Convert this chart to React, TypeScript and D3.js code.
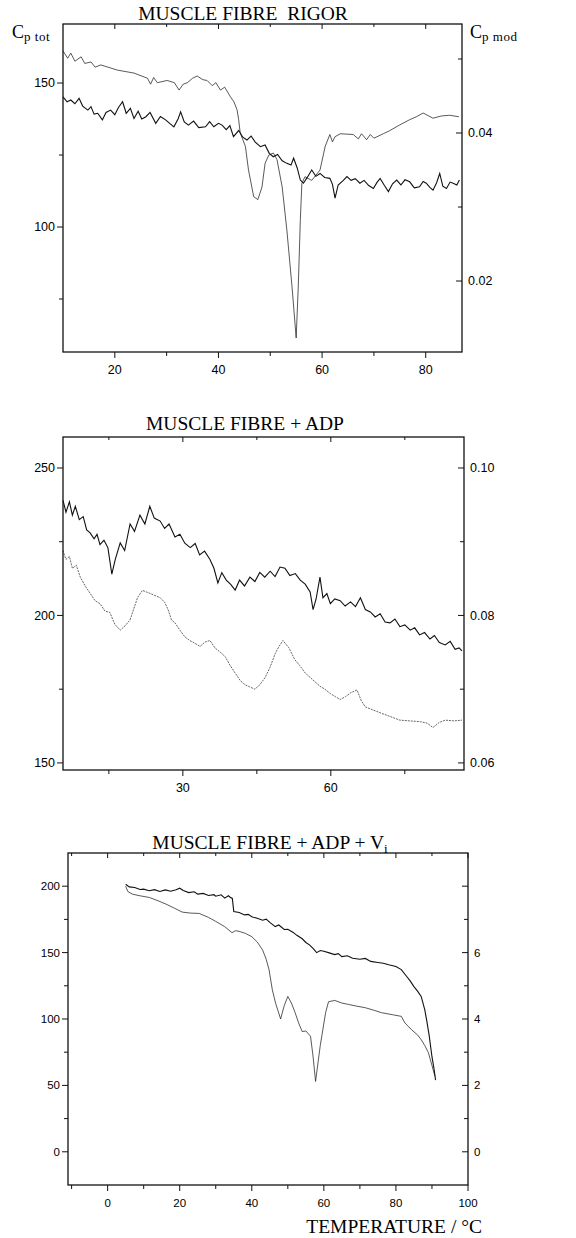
import * as d3 from "d3";
import {useEffect} from "react";

type Pt = [number, number];

// ---- panel 1: muscle fibre rigor ----
// thick noisy trace, left axis (Cp tot)
const rigorTot: Pt[] = [
  [10,145.2],[10.8,143.5],[11.5,144.1],[12.3,142.8],[13.1,144.7],[13.8,142],[14.8,140.6],[15.4,141.8],
  [16,139.2],[16.7,139.5],[17.6,137.2],[18.3,139.8],[19.2,140.6],[20,139],[20.7,141.5],[21.5,143.5],
  [22.2,139.5],[23,141.2],[23.7,137.7],[24.5,140.2],[25.2,137.5],[26,138.3],[26.8,139.8],[27.9,136],
  [28.8,138.4],[29.8,137.2],[30.7,135.8],[31.4,134.8],[32.2,137.5],[32.7,140],[33.4,136.5],[34.2,135.4],
  [35.2,136.8],[36.2,134.5],[37.5,134.8],[38.3,136.6],[39.1,134.8],[40,136],[40.7,135.4],[41.5,133.8],
  [42.2,135.2],[42.9,131.4],[43.9,133.5],[44.7,131.2],[45.5,130.2],[46.3,131.6],[47.1,129.5],[48.1,127.9],
  [49,128.5],[49.8,125.6],[50.6,124.4],[51.4,125.2],[52.3,123],[53.2,122.1],[54,121.5],[54.5,123.9],
  [55.2,120.5],[55.8,116.3],[56.4,115.2],[57.2,117.4],[58,119.8],[58.8,117.6],[59.6,118.6],[60.5,117.2],
  [61.5,116.9],[62,114.8],[62.5,110],[63.1,114.6],[64,116],[64.8,117.5],[65.6,116.2],[66.4,116.8],
  [67.3,115.2],[68.1,116.2],[69,114.4],[69.9,113.4],[70.6,115.5],[71.2,116.9],[72,114.5],[72.8,112.3],
  [73.6,115],[74.4,116.3],[75.2,114.6],[76,116.4],[76.9,115.7],[77.8,113.6],[78.8,114],[79.5,115.8],
  [80.1,115.2],[80.8,113.8],[81.4,112.8],[82.1,115.4],[82.7,118.6],[83.3,114.2],[84,113.4],[84.7,115.6],
  [85.3,115.2],[86,114.6],[86.5,116.3],
];
// thin trace, right axis (Cp mod)
const rigorMod: Pt[] = [
  [10,0.0511],[10.9,0.0501],[11.5,0.0508],[12.3,0.0497],[13.5,0.0503],[14.2,0.0494],[15.4,0.0496],
  [16.2,0.0489],[17.3,0.0492],[20.5,0.0485],[23.7,0.0481],[26.3,0.0474],[26.9,0.0466],[27.5,0.0475],
  [28.2,0.0468],[30.1,0.0471],[31.5,0.0468],[32.4,0.0458],[33.2,0.0466],[34,0.0468],[35,0.0474],
  [35.9,0.0477],[37,0.0472],[37.8,0.0471],[38.8,0.0464],[39.5,0.0468],[40.4,0.0458],[41.2,0.0462],
  [42.3,0.0449],[43,0.0442],[43.6,0.0431],[43.9,0.0418],[44.2,0.04],[45.2,0.0382],[45.8,0.035],
  [46.8,0.0314],[47.6,0.031],[48.4,0.0327],[49,0.0359],[49.7,0.037],[50.6,0.0373],[51.3,0.0364],
  [52.3,0.0327],[53.2,0.0269],[54.2,0.0192],[55,0.0123],[55.4,0.0192],[55.8,0.0282],[56.1,0.0332],
  [56.7,0.0341],[58,0.0336],[59.6,0.035],[60.6,0.0382],[61.5,0.0398],[62,0.0388],[62.5,0.0395],
  [63.5,0.0399],[66,0.0398],[67,0.0392],[67.6,0.0399],[68.6,0.0391],[69.3,0.0398],[70,0.0393],
  [71.8,0.0399],[73,0.0403],[75,0.0411],[76.9,0.0418],[78.2,0.0422],[79.5,0.0427],[81.4,0.042],
  [83,0.0423],[84.6,0.0424],[86.4,0.0422],
];

// ---- panel 2: muscle fibre + ADP ----
const adpTot: Pt[] = [
  [5.7,239],[6.3,235],[7,238.5],[7.6,234],[8.2,237],[9,232.5],[9.8,233.5],[10.5,229],[11.2,228],[12,226],
  [12.6,227.5],[13.2,224],[14,225.5],[14.8,223],[15.6,214],[16.3,219],[17.3,224.6],[18.2,222],[19.3,231],
  [20.2,228.5],[21.3,234],[22.3,231],[23.3,237],[24.2,233],[25.4,232],[26.3,229.5],[27.2,231],[28.4,226.6],
  [29.4,227.5],[30.4,224.5],[31.5,223],[32.5,224.4],[33.4,220.5],[34.4,221.8],[35.5,219],[36.3,216],
  [37.1,211],[37.9,214.5],[38.8,212],[39.7,210.5],[40.6,208.6],[41.5,212],[42.5,210],[43.6,213],
  [44.6,211.5],[45.6,214.6],[46.6,213],[47.7,215],[48.7,213.2],[49.7,216.4],[50.7,216],[51.7,213.5],
  [52.8,214.2],[53.8,212],[54.8,210.6],[55.8,208],[56.4,202],[57,205.5],[57.8,213],[58.4,206],[59.2,207.4],
  [59.9,204],[60.8,205.6],[61.9,205],[62.9,203.2],[64,204.6],[65,203],[66,206],[67,202],[68,201.2],
  [69,199.5],[70,200.6],[71,197.8],[72,197.5],[73,198.8],[74,196.2],[75,196.8],[76.1,195],[77,195.8],
  [78,193.4],[79,194.2],[80.1,192],[81,193.2],[82,190.8],[83.2,190],[84.2,191.2],[85.2,188.5],[86,189],
  [86.6,188],
];
const adpMod: Pt[] = [
  [5.7,0.0888],[6.3,0.0876],[7,0.088],[7.6,0.0864],[8.4,0.0868],[9.2,0.0852],[10.2,0.084],[11.2,0.083],
  [12.2,0.082],[13.2,0.0816],[14.2,0.0806],[15.2,0.0804],[16.2,0.0788],[17.3,0.078],[18.3,0.0786],
  [19.3,0.0794],[20,0.0808],[20.8,0.0824],[21.8,0.0834],[23.3,0.083],[25.4,0.0824],[26.3,0.0818],
  [27,0.0808],[27.7,0.0794],[28.4,0.079],[29.4,0.078],[30.4,0.0771],[31.4,0.0766],[32.5,0.0762],
  [33.5,0.0758],[34.5,0.0764],[35.5,0.0766],[36.5,0.0756],[37.6,0.075],[38.6,0.0744],[39.6,0.0732],
  [40.6,0.0722],[41.6,0.0712],[42.6,0.0706],[43.6,0.0703],[44.6,0.07],[45.6,0.0706],[46.7,0.0716],
  [47.7,0.073],[48.7,0.0748],[49.5,0.0758],[50.3,0.0766],[51.5,0.0756],[52.7,0.074],[53.7,0.0732],
  [54.8,0.0722],[55.8,0.0716],[56.8,0.071],[57.8,0.0704],[58.8,0.07],[59.9,0.0694],[60.9,0.069],
  [61.9,0.0686],[63,0.069],[64,0.0695],[65.3,0.0699],[66.2,0.0684],[67,0.0676],[68.5,0.0672],[70,0.0668],
  [72,0.0663],[74,0.0658],[76,0.0657],[78.1,0.0656],[79.5,0.0654],[80.7,0.0648],[82,0.0655],[83.2,0.0658],
  [85,0.0657],[86.6,0.0658],
];

// ---- panel 3: muscle fibre + ADP + Vi ----
const vanTot: Pt[] = [
  [5,201.5],[6,199.5],[7.5,199],[9,197.5],[10,197.8],[11.5,196.6],[13,197.4],[14.5,196],[16,197.2],
  [17.5,196.2],[19,197.4],[20,198.5],[21,196.8],[22.5,195.2],[24,195.8],[25,194],[26.5,194.6],[28,193],
  [29.5,193.6],[30,192.5],[31.5,193.5],[32.5,191],[33.5,192.8],[34,191.7],[34.6,190.8],[35,181],
  [36.5,180.2],[38,178.4],[39,178.8],[40,177],[41.5,175.8],[43,174.4],[44,175.2],[45,172.8],[46.5,169.6],
  [47.5,170.8],[49,167.4],[50,167.6],[51.5,165.2],[52.5,163],[54,160.4],[55,157.6],[56,155.8],[57,153.2],
  [58,150],[59,151.6],[60,151],[61.5,149.8],[63,148.5],[64,149.2],[65,147],[66.5,147.6],[68,145.8],
  [70,145],[71.5,145.6],[73,143.4],[75,142.6],[76.5,142],[78,140.8],[80,139.5],[81.5,137.2],[83,132],
  [84,128.5],[85,124.4],[86,121],[87,117],[88,107],[88.5,99.5],[89.2,88],[90,71.6],[90.6,62],[91,54],
];
const vanMod: Pt[] = [
  [5,8],[5.6,7.84],[6.9,7.76],[9,7.71],[11.6,7.66],[14,7.56],[16.2,7.46],[18.5,7.34],[20.7,7.22],
  [23,7.19],[25.4,7.18],[28,7.06],[30,6.94],[32.5,6.78],[34.5,6.6],[35.5,6.66],[36.5,6.64],[38.2,6.58],
  [40,6.48],[41.5,6.32],[43,6.08],[44,5.8],[44.8,5.48],[45.7,4.88],[46.6,4.48],[48,4],[49,4.4],[50,4.68],
  [51,4.48],[52,4.2],[53,3.88],[54,3.62],[55,3.64],[56.3,3.48],[57,2.88],[57.7,2.12],[59,3.2],[60.5,4.2],
  [61.3,4.52],[63,4.56],[65,4.48],[66.8,4.44],[69,4.39],[71.5,4.34],[74,4.26],[76,4.19],[79,4.13],
  [81.5,4.08],[82.5,3.88],[84.3,3.68],[86,3.52],[87,3.38],[88,3.2],[89,2.99],[90,2.6],[90.3,2.48],[90.8,2.28],
];

// tick values
const rigorXMajor = [20, 40, 60, 80];
const rigorXMinor = [30, 50, 70];
const rigorLMajor = [100, 150];
const rigorLMinor = [75, 125];
const rigorRMajor = [0.02, 0.04];
const rigorRMinor = [0.03, 0.05];

const adpXMajor = [30, 60];
const adpXMinor = [15, 45, 75];
const adpLMajor = [150, 200, 250];
const adpLMinor = [175, 225];
const adpRMajor = [0.06, 0.08, 0.1];
const adpRMinor = [0.07, 0.09];

const vanXMajor = [0, 20, 40, 60, 80, 100];
const vanXMinor = [-10, 10, 30, 50, 70, 90];
const vanLMajor = [0, 50, 100, 150, 200];
const vanLMinor = [25, 75, 125, 175];
const vanRMajor = [0, 2, 4, 6, 8];
const vanRLabels = [0, 2, 4, 6];
const vanRMinor = [1, 3, 5, 7];

const sans = "'Liberation Sans', Arial, sans-serif";
const serif = "'Liberation Serif', 'Times New Roman', serif";

function Panel(props: any) {
  const {c} = props;
  const x = d3.scaleLinear().domain(c.xDomain).range([c.left, c.right]);
  const yL = d3.scaleLinear().domain(c.lDomain).range([c.bottom, c.top]);
  const yR = d3.scaleLinear().domain(c.rDomain).range([c.bottom, c.top]);
  const lineL = d3.line<Pt>().x(d => x(d[0])).y(d => yL(d[1]));
  const lineR = d3.line<Pt>().x(d => x(d[0])).y(d => yR(d[1]));
  const fs = c.fontSize;
  const fmtR = c.fmtR || ((v: number) => String(v));

  return (
    <g>
      <path d={lineR(c.mod) || ""} fill="none" stroke={c.modColor} strokeWidth={c.modWidth}
        strokeDasharray={c.modDash} />
      <path d={lineL(c.tot) || ""} fill="none" stroke="#111" strokeWidth={1.1} />
      <rect x={c.left} y={c.top} width={c.right - c.left} height={c.bottom - c.top}
        fill="none" stroke="#111" strokeWidth={1.3} />

      {/* bottom & top ticks */}
      {c.xMajor.map((v: number) => (
        <g key={"xm" + v}>
          <line x1={x(v)} x2={x(v)} y1={c.bottom} y2={c.bottom + 6} stroke="#111" />
          <line x1={x(v)} x2={x(v)} y1={c.top} y2={c.top + 5} stroke="#111" />
          <text x={x(v)} y={c.bottom + 22} textAnchor="middle" fontSize={fs} fontFamily={sans}>{v}</text>
        </g>
      ))}
      {c.xMinor.map((v: number) => (
        <g key={"xn" + v}>
          <line x1={x(v)} x2={x(v)} y1={c.bottom} y2={c.bottom + 4} stroke="#111" />
          <line x1={x(v)} x2={x(v)} y1={c.top} y2={c.top + 3} stroke="#111" />
        </g>
      ))}

      {/* left ticks */}
      {c.lMajor.map((v: number) => (
        <g key={"lm" + v}>
          <line x1={c.left - 6} x2={c.left} y1={yL(v)} y2={yL(v)} stroke="#111" />
          <text x={c.left - 8} y={yL(v)} dy="0.35em" textAnchor="end" fontSize={fs} fontFamily={sans}>{v}</text>
        </g>
      ))}
      {c.lMinor.map((v: number) => (
        <line key={"ln" + v} x1={c.left - 4} x2={c.left} y1={yL(v)} y2={yL(v)} stroke="#111" />
      ))}

      {/* right ticks */}
      {c.rMajor.map((v: number) => (
        <line key={"rm" + v} x1={c.right - 6} x2={c.right} y1={yR(v)} y2={yR(v)} stroke="#111" />
      ))}
      {c.rLabels.map((v: number) => (
        <text key={"rl" + v} x={c.right + 6} y={yR(v)} dy="0.35em" fontSize={fs} fontFamily={sans}>{fmtR(v)}</text>
      ))}
      {c.rMinor.map((v: number) => (
        <line key={"rn" + v} x1={c.right - 4} x2={c.right} y1={yR(v)} y2={yR(v)} stroke="#111" />
      ))}
    </g>
  );
}

const panels = [
  {
    tot: rigorTot, mod: rigorMod,
    xDomain: [10, 87], lDomain: [56.6, 170.5], rDomain: [0.01041, 0.05473],
    left: 63, right: 462, top: 24, bottom: 352,
    xMajor: rigorXMajor, xMinor: rigorXMinor,
    lMajor: rigorLMajor, lMinor: rigorLMinor,
    rMajor: rigorRMajor, rLabels: rigorRMajor, rMinor: rigorRMinor,
    fmtR: (v: number) => v.toFixed(2),
    modColor: "#222", modWidth: 0.75, modDash: undefined,
    fontSize: 12.5,
  },
  {
    tot: adpTot, mod: adpMod,
    xDomain: [5.7, 87], lDomain: [147.6, 260.5], rDomain: [0.05904, 0.1042],
    left: 63, right: 464, top: 437, bottom: 770,
    xMajor: adpXMajor, xMinor: adpXMinor,
    lMajor: adpLMajor, lMinor: adpLMinor,
    rMajor: adpRMajor, rLabels: adpRMajor, rMinor: adpRMinor,
    fmtR: (v: number) => v.toFixed(2),
    modColor: "#555", modWidth: 0.9, modDash: "2,1",
    fontSize: 12.5,
  },
  {
    tot: vanTot, mod: vanMod,
    xDomain: [-11, 100], lDomain: [-25, 225], rDomain: [-1, 9],
    left: 68, right: 468, top: 853, bottom: 1185,
    xMajor: vanXMajor, xMinor: vanXMinor,
    lMajor: vanLMajor, lMinor: vanLMinor,
    rMajor: vanRMajor, rLabels: vanRLabels, rMinor: vanRMinor,
    modColor: "#222", modWidth: 0.75, modDash: undefined,
    fontSize: 11.5,
  },
];

function App() {
  useEffect(() => {
    document.body.style.margin = "0";
  }, []);

  return (
    <svg width={576} height={1238} viewBox="0 0 576 1238" style={{display: "block", background: "#fff"}}>
      <rect width={576} height={1238} fill="#fff" />
      {panels.map((c, i) => <Panel key={i} c={c} />)}

      <text x={243} y={20} textAnchor="middle" fontSize={19.5} fontFamily={serif}>MUSCLE FIBRE{"\u00a0\u00a0"}RIGOR</text>
      <text x={12} y={38} fontSize={18} fontFamily={serif}>C<tspan dy={3} fontSize={13} letterSpacing={0.5}>p tot</tspan></text>
      <text x={470} y={38} fontSize={18} fontFamily={serif}>C<tspan dy={3} fontSize={13} letterSpacing={0.5}>p mod</tspan></text>

      <text x={245} y={430} textAnchor="middle" fontSize={19.5} fontFamily={serif}>MUSCLE FIBRE + ADP</text>

      <text x={270} y={849} textAnchor="middle" fontSize={19.5} fontFamily={serif}>MUSCLE FIBRE + ADP + V<tspan dy={4} fontSize={13}>i</tspan></text>

      <text x={482} y={1233} textAnchor="end" fontSize={19.5} fontFamily={serif}>TEMPERATURE / °C</text>
    </svg>
  );
}

export default App;
